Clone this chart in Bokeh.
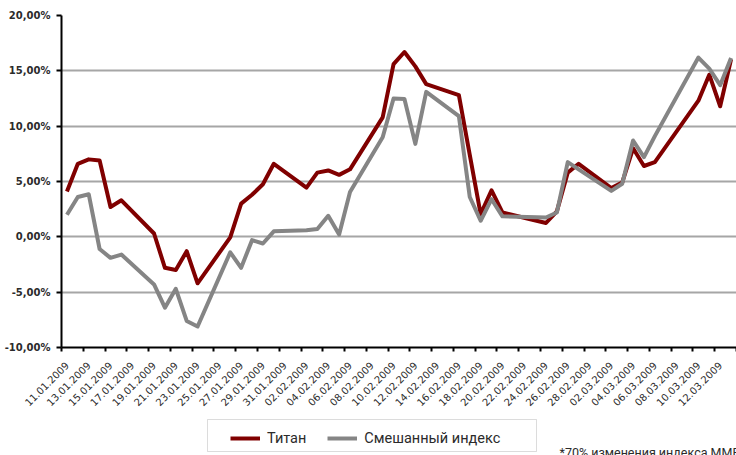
import math
from datetime import datetime, timedelta

from bokeh.embed import file_html
from bokeh.layouts import column
from bokeh.models import (BoxAnnotation, ColumnDataSource, DatetimeTickFormatter,
                          FixedTicker, Label, Legend, LegendItem, Range1d)
from bokeh.plotting import figure
from bokeh.resources import INLINE

# Trading days and daily cumulative change, %
dates = ["11.01.2009", "12.01.2009", "13.01.2009", "14.01.2009", "15.01.2009",
         "16.01.2009", "19.01.2009", "20.01.2009", "21.01.2009", "22.01.2009",
         "23.01.2009", "26.01.2009", "27.01.2009", "28.01.2009", "29.01.2009",
         "30.01.2009", "02.02.2009", "03.02.2009", "04.02.2009", "05.02.2009",
         "06.02.2009", "09.02.2009", "10.02.2009", "11.02.2009", "12.02.2009",
         "13.02.2009", "16.02.2009", "17.02.2009", "18.02.2009", "19.02.2009",
         "20.02.2009", "24.02.2009", "25.02.2009", "26.02.2009", "27.02.2009",
         "02.03.2009", "03.03.2009", "04.03.2009", "05.03.2009", "06.03.2009",
         "10.03.2009", "11.03.2009", "12.03.2009", "13.03.2009"]

titan = [4.1, 6.6, 7.0, 6.9, 2.7,
         3.3, 0.3, -2.8, -3.0, -1.3,
         -4.2, -0.05, 3.0, 3.8, 4.75,
         6.6, 4.45, 5.8, 6.0, 5.6,
         6.1, 10.8, 15.6, 16.7, 15.4,
         13.8, 12.8, 7.4, 2.05, 4.2,
         2.2, 1.25, 2.3, 5.8, 6.6,
         4.4, 4.9, 8.0, 6.4, 6.75,
         12.3, 14.65, 11.8, 16.05]

mixed_index = [2.0, 3.6, 3.85, -1.1, -1.9,
               -1.6, -4.3, -6.4, -4.7, -7.6,
               -8.1, -1.4, -2.8, -0.3, -0.6,
               0.5, 0.6, 0.7, 1.9, 0.2,
               4.05, 9.0, 12.5, 12.45, 8.4,
               13.1, 10.9, 3.6, 1.45, 3.4,
               1.85, 1.75, 2.2, 6.75, 6.1,
               4.15, 4.8, 8.7, 7.2, 9.1,
               16.2, 15.2, 13.7, 16.15]

series_names = ["Титан", "Смешанный индекс"]
footnote = "*70% изменения индекса ММВБ"

y_ticks = [-10, -5, 0, 5, 10, 15, 20]
y_tick_labels = ["-10,00%", "-5,00%", "0,00%", "5,00%", "10,00%", "15,00%", "20,00%"]

x_first = "11.01.2009"
x_last = "13.03.2009"
label_step_days = 2

RED = "#800000"
GRAY = "#858585"
TEXT = "#2b2b2b"
W = 736
LEFT = 61
CHART_H = 418
FOOT_H = 37

EPOCH = datetime(1970, 1, 1)


def to_ms(d):
    return (d - EPOCH).total_seconds() * 1000.0


x_dates = [datetime.strptime(d, "%d.%m.%Y") for d in dates]
src = ColumnDataSource(dict(x=x_dates, titan=titan, mixed=mixed_index))

start = datetime.strptime(x_first, "%d.%m.%Y")
end = datetime.strptime(x_last, "%d.%m.%Y")
half = timedelta(hours=12)

# labels sit on the day, tick marks on the boundaries between day slots
label_ticks = []
d = start
while d <= end:
    label_ticks.append(to_ms(d))
    d += timedelta(days=label_step_days)
slot_ticks = []
d = start - half
while d <= end + half:
    slot_ticks.append(to_ms(d))
    d += timedelta(days=label_step_days)

p = figure(width=W, height=CHART_H, x_axis_type="datetime",
           x_range=Range1d(start - half, end + half),
           y_range=Range1d(y_ticks[0], y_ticks[-1]),
           output_backend="svg", toolbar_location=None,
           min_border_left=LEFT, min_border_right=0,
           min_border_top=15, min_border_bottom=CHART_H - 347)
p.outline_line_color = None
p.background_fill_color = "white"
p.border_fill_color = "white"

# horizontal gridlines
p.xgrid.visible = False
p.ygrid.ticker = FixedTicker(ticks=y_ticks)
p.ygrid.grid_line_color = "#a6a6a6"
p.ygrid.grid_line_width = 2

# y axis
ya = p.yaxis[0]
ya.ticker = FixedTicker(ticks=y_ticks)
ya.major_label_overrides = {t: s for t, s in zip(y_ticks, y_tick_labels)}
ya.axis_line_color = "black"
ya.axis_line_width = 2
ya.major_tick_line_color = "black"
ya.major_tick_line_width = 2
ya.major_tick_out = 5
ya.major_tick_in = 0
ya.minor_tick_line_color = None
ya.major_label_standoff = 6
ya.major_label_text_font = "DejaVu Sans"
ya.major_label_text_font_style = "bold"
ya.major_label_text_font_size = "10px"
ya.major_label_text_color = TEXT

# x axis
xa = p.xaxis[0]
xa.ticker = FixedTicker(ticks=label_ticks, minor_ticks=slot_ticks)
fmt = "%d.%m.%Y"
xa.formatter = DatetimeTickFormatter(microseconds=fmt, milliseconds=fmt, seconds=fmt,
                                     minsec=fmt, minutes=fmt, hourmin=fmt, hours=fmt,
                                     days=fmt, months=fmt, years=fmt)
xa.axis_line_color = "black"
xa.axis_line_width = 2
xa.major_tick_line_color = None
xa.major_tick_out = 0
xa.major_tick_in = 0
xa.minor_tick_line_color = "black"
xa.minor_tick_line_width = 2
xa.minor_tick_out = 4
xa.minor_tick_in = 0
xa.major_label_orientation = math.pi / 4
xa.major_label_standoff = 12
xa.major_label_text_font = "DejaVu Sans"
xa.major_label_text_font_size = "10px"
xa.major_label_text_color = TEXT

# series (index drawn on top)
p.line("x", "titan", source=src, line_color=RED, line_width=4, line_join="round")
p.line("x", "mixed", source=src, line_color=GRAY, line_width=4, line_join="round")

# strip under the chart: framed legend and footnote; its frame lines up with the
# chart frame (starts at LEFT) and its ranges are in pixels
f = figure(width=W, height=FOOT_H, x_range=Range1d(0, W - LEFT),
           y_range=Range1d(0, FOOT_H),
           output_backend="svg", toolbar_location=None,
           x_axis_location=None, y_axis_location=None,
           min_border_left=LEFT, min_border_right=0,
           min_border_top=0, min_border_bottom=0)
f.outline_line_color = None
f.grid.visible = False
f.background_fill_color = "white"
f.border_fill_color = "white"

# legend proxies: same columns, they fall far outside this strip's ranges
k_titan = f.line("x", "titan", source=src, line_color=RED, line_width=4)
k_mixed = f.line("x", "mixed", source=src, line_color=GRAY, line_width=4)

f.add_layout(BoxAnnotation(left=146, right=475, bottom=4, top=36,
                           left_units="screen", right_units="screen",
                           bottom_units="screen", top_units="screen",
                           fill_alpha=0, line_color="#8c8c8c", line_width=1))

legend = Legend(items=[LegendItem(label=series_names[0], renderers=[k_titan]),
                       LegendItem(label=series_names[1], renderers=[k_mixed])],
                orientation="horizontal", location=(169, 8),
                padding=7, spacing=21, margin=0,
                glyph_width=30, glyph_height=18, label_standoff=7,
                label_text_font="Roboto", label_text_font_size="14.5px",
                label_text_color=TEXT,
                border_line_color=None, background_fill_alpha=0)
f.add_layout(legend)

f.add_layout(Label(x=498, y=3, x_units="screen", y_units="screen",
                   text=footnote, text_font="Roboto", text_font_size="12.5px",
                   text_color=TEXT, text_baseline="alphabetic"))

page = column(p, f, spacing=0)
open("out.html", "w").write(file_html(page, INLINE))
